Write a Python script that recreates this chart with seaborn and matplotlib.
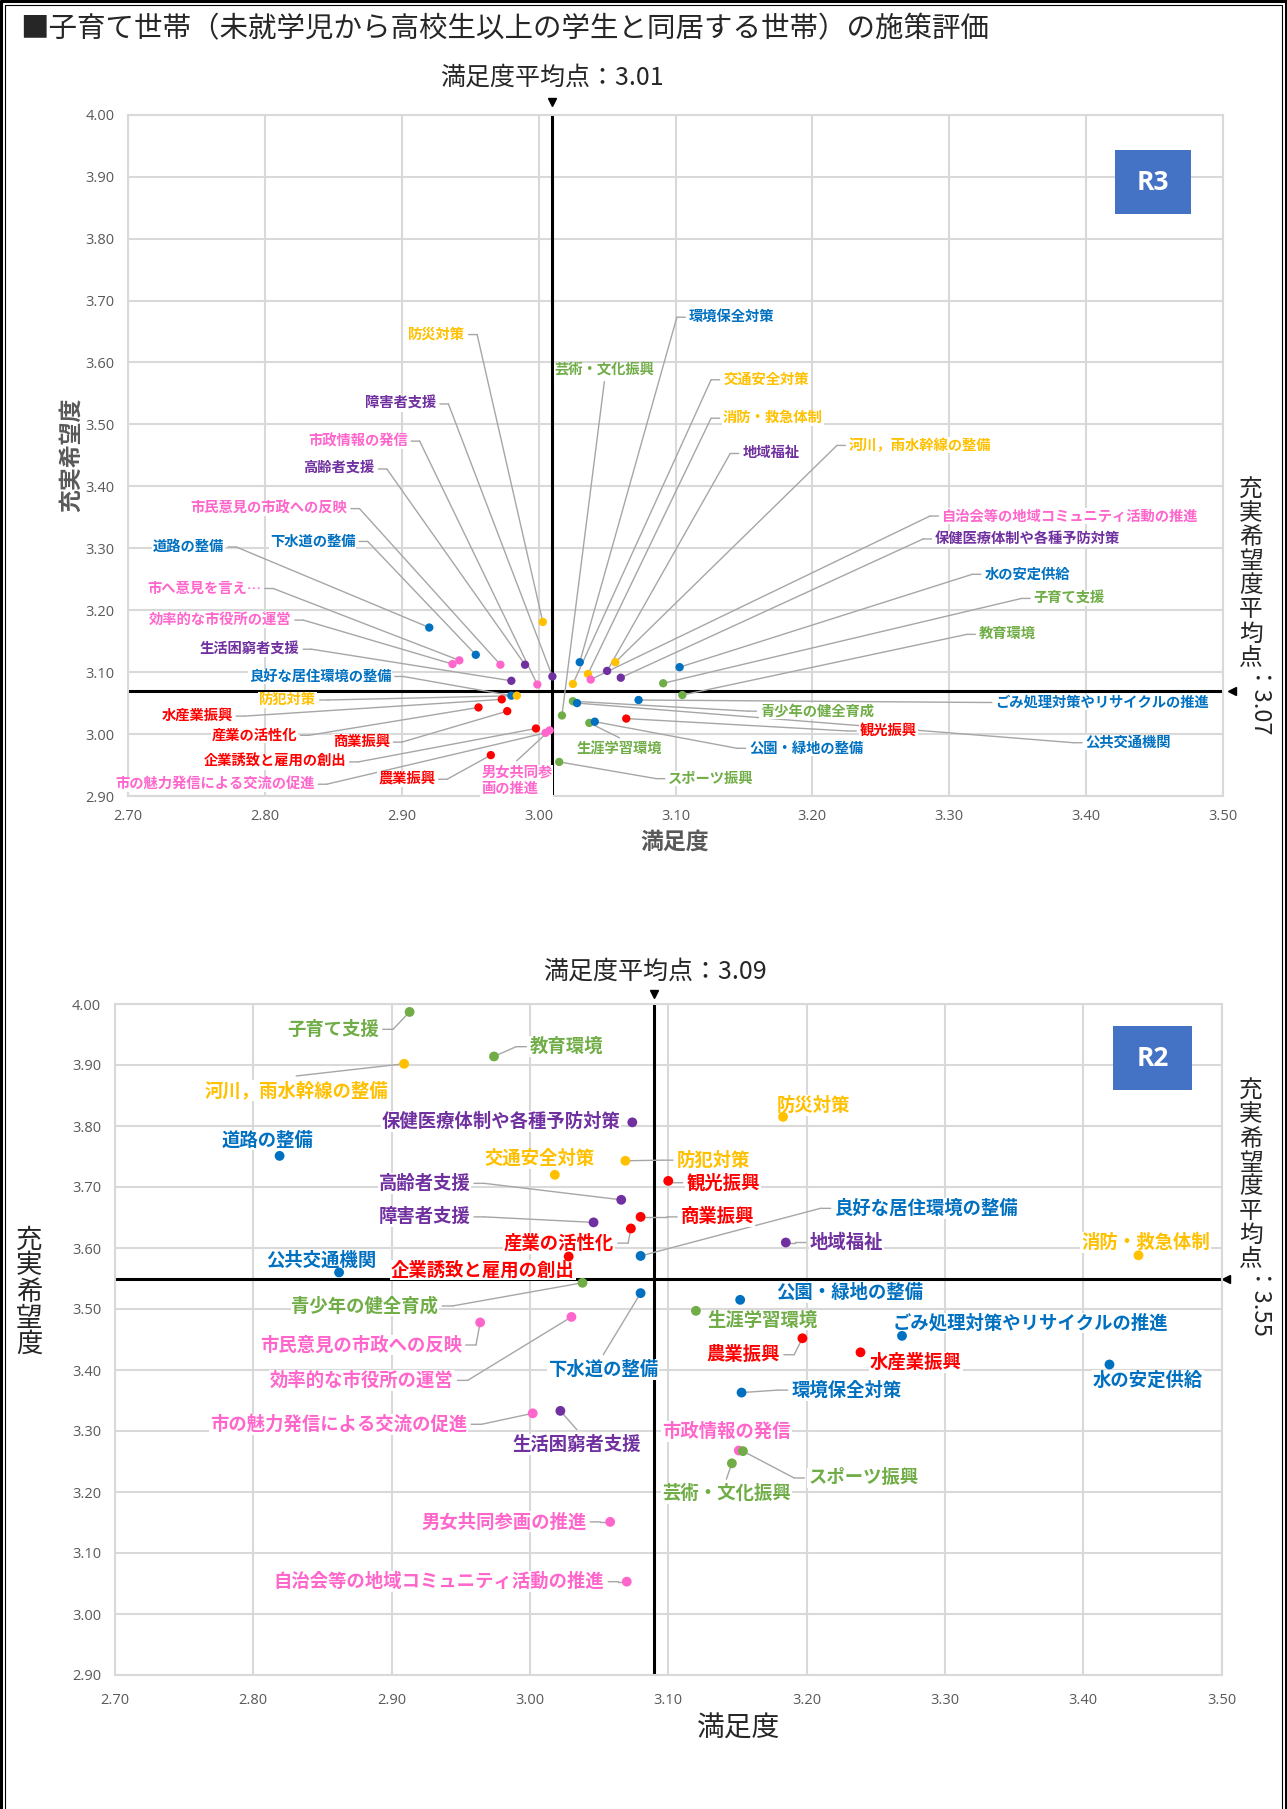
import numpy as np
import pandas as pd
import matplotlib.pyplot as plt
import matplotlib.transforms as mtransforms
import seaborn as sns
from matplotlib.lines import Line2D
from matplotlib.patches import Rectangle
from matplotlib.ticker import FormatStrFormatter

# ---- data: R3 ----
r3_names = ["道路の整備", "防災対策", "下水道の整備", "市へ意見を言え…", "効率的な市役所の運営",
            "市民意見の市政への反映", "高齢者支援", "市政情報の発信", "障害者支援", "生活困窮者支援",
            "良好な居住環境の整備", "防犯対策", "水産業振興", "産業の活性化", "商業振興",
            "企業誘致と雇用の創出", "市の魅力発信による交流の促進", "男女共同参画の推進", "農業振興", "スポーツ振興",
            "芸術・文化振興", "環境保全対策", "河川，雨水幹線の整備", "交通安全対策", "消防・救急体制",
            "地域福祉", "自治会等の地域コミュニティ活動の推進", "保健医療体制や各種予防対策", "子育て支援", "教育環境",
            "水の安定供給", "ごみ処理対策やリサイクルの推進", "青少年の健全育成", "公共交通機関", "観光振興",
            "生涯学習環境", "公園・緑地の整備"]
r3_sat = [2.920, 3.003, 2.954, 2.942, 2.937, 2.972, 2.990, 2.999, 3.010, 2.980,
          2.980, 2.984, 2.973, 2.956, 2.977, 2.998, 3.005, 3.008, 2.965, 3.015,
          3.017, 3.030, 3.056, 3.025, 3.036, 3.050, 3.038, 3.060, 3.091, 3.105,
          3.103, 3.073, 3.025, 3.028, 3.064, 3.037, 3.041]
r3_hope = [3.172, 3.181, 3.128, 3.119, 3.113, 3.112, 3.112, 3.080, 3.093, 3.086,
           3.062, 3.062, 3.056, 3.043, 3.037, 3.009, 3.002, 3.006, 2.966, 2.955,
           3.030, 3.116, 3.116, 3.081, 3.097, 3.102, 3.088, 3.091, 3.082, 3.063,
           3.108, 3.055, 3.053, 3.050, 3.025, 3.018, 3.020]
r3_grp = ["blue", "yellow", "blue", "pink", "pink", "pink", "purple", "pink", "purple", "purple",
          "blue", "yellow", "red", "red", "red", "red", "pink", "pink", "red", "green",
          "green", "blue", "yellow", "yellow", "yellow", "purple", "pink", "purple", "green", "green",
          "blue", "blue", "green", "blue", "red", "green", "blue"]
r3_mean_sat, r3_mean_hope = 3.01, 3.07

# ---- data: R2 ----
r2_names = ["子育て支援", "教育環境", "河川，雨水幹線の整備", "保健医療体制や各種予防対策", "道路の整備",
            "交通安全対策", "防犯対策", "高齢者支援", "障害者支援", "商業振興",
            "産業の活性化", "観光振興", "企業誘致と雇用の創出", "良好な居住環境の整備", "公共交通機関",
            "地域福祉", "防災対策", "消防・救急体制", "青少年の健全育成", "下水道の整備",
            "市民意見の市政への反映", "効率的な市役所の運営", "市の魅力発信による交流の促進", "生活困窮者支援", "男女共同参画の推進",
            "自治会等の地域コミュニティ活動の推進", "公園・緑地の整備", "生涯学習環境", "農業振興", "ごみ処理対策やリサイクルの推進",
            "水産業振興", "水の安定供給", "環境保全対策", "市政情報の発信", "スポーツ振興",
            "芸術・文化振興"]
r2_sat = [2.913, 2.974, 2.909, 3.074, 2.819, 3.018, 3.069, 3.066, 3.046, 3.080,
          3.073, 3.100, 3.028, 3.080, 2.862, 3.185, 3.183, 3.440, 3.038, 3.080,
          2.964, 3.030, 3.002, 3.022, 3.058, 3.070, 3.152, 3.120, 3.197, 3.269,
          3.239, 3.419, 3.153, 3.151, 3.154, 3.146]
r2_hope = [3.987, 3.914, 3.902, 3.806, 3.751, 3.720, 3.743, 3.679, 3.642, 3.651,
           3.632, 3.710, 3.586, 3.587, 3.560, 3.609, 3.815, 3.588, 3.543, 3.526,
           3.478, 3.487, 3.329, 3.333, 3.151, 3.053, 3.515, 3.497, 3.452, 3.456,
           3.429, 3.409, 3.363, 3.268, 3.267, 3.247]
r2_grp = ["green", "green", "yellow", "purple", "blue", "yellow", "yellow", "purple", "purple", "red",
          "red", "red", "red", "blue", "blue", "purple", "yellow", "yellow", "green", "blue",
          "pink", "pink", "pink", "purple", "pink", "pink", "blue", "green", "red", "blue",
          "red", "blue", "blue", "pink", "green", "green"]
r2_mean_sat, r2_mean_hope = 3.09, 3.55

pal = {"blue": "#0070C0", "green": "#70AD47", "yellow": "#FFC000",
       "purple": "#7030A0", "red": "#FF0000", "pink": "#FF66CC"}

# label layout (anchor of leader in data coords + placement mode)
r3_lab = [(2.779, 3.302, "L"), (2.955, 3.645, "L"), (2.875, 3.311, "L"), (2.806, 3.235, "L"), (2.828, 3.184, "L"),
          (2.869, 3.364, "L"), (2.889, 3.428, "L"), (2.913, 3.473, "L"), (2.934, 3.533, "L"), (2.834, 3.137, "L"),
          (2.901, 3.093, "L"), (2.846, 3.055, "L"), (2.785, 3.029, "L"), (2.832, 2.998, "L"), (2.900, 2.987, "L"),
          (2.868, 2.955, "L"), (2.845, 2.919, "L"), (2.984, 2.957, "B"), (2.933, 2.927, "L"), (3.086, 2.928, "R"),
          (3.048, 3.569, "T"), (3.101, 3.673, "R"), (3.218, 3.466, "R"), (3.126, 3.572, "R"), (3.126, 3.510, "R"),
          (3.140, 3.453, "R"), (3.286, 3.352, "R"), (3.281, 3.315, "R"), (3.353, 3.219, "R"), (3.313, 3.161, "R"),
          (3.317, 3.258, "R"), (3.325, 3.051, "R"), (3.153, 3.037, "R"), (3.391, 2.986, "R"), (3.226, 3.005, "R"),
          (3.059, 2.994, "B"), (3.145, 2.977, "R")]
r3_wrap = {"男女共同参画の推進": "男女共同参\n画の推進"}

r2_lab = [(2.901, 3.9585, "L"), (2.990, 3.930, "R"), (2.831, 3.882, "B"), (2.979, 3.807, "c"), (2.810, 3.777, "c"),
          (3.007, 3.747, "c"), (3.096, 3.744, "R"), (2.967, 3.706, "L"), (2.967, 3.651, "L"), (3.099, 3.651, "R"),
          (3.071, 3.608, "L"), (3.103, 3.707, "R"), (2.966, 3.564, "c"), (3.210, 3.665, "R"), (2.849, 3.580, "c"),
          (3.192, 3.609, "R"), (3.205, 3.833, "c"), (3.445, 3.609, "c"), (2.944, 3.505, "L"), (3.053, 3.425, "B"),
          (2.961, 3.441, "L"), (2.955, 3.383, "L"), (2.965, 3.311, "L"), (3.034, 3.302, "B"), (3.051, 3.151, "L"),
          (3.064, 3.053, "L"), (3.231, 3.527, "c"), (3.168, 3.482, "c"), (3.191, 3.425, "L"), (3.362, 3.477, "c"),
          (3.279, 3.412, "c"), (3.447, 3.383, "c"), (3.179, 3.367, "R"), (3.142, 3.299, "c"), (3.191, 3.223, "R"),
          (3.142, 3.221, "B")]

W, H = 1287, 1809
LEAD = "#A6A6A6"
GRID = "#D9D9D9"


def fx(px):
    return px / W


def fy(py):
    return 1 - py / H


sns.set_theme(style="whitegrid")
plt.rcParams['font.family'] = ['Noto Sans CJK JP', 'DejaVu Sans']

fig = plt.figure(figsize=(W / 100, H / 100), dpi=100)
fig.patch.set_facecolor("white")


def draw_panel(ax, names, sat, hope, grp, labs, wrap, mean_sat, mean_hope, ms, fs, off, xpad):
    df = pd.DataFrame({"name": names, "sat": sat, "hope": hope, "grp": grp})
    ax.set_facecolor("white")
    ax.axvline(mean_sat, color="black", lw=2.2, zorder=2)
    ax.axhline(mean_hope, color="black", lw=2.2, zorder=2)
    sns.scatterplot(data=df, x="sat", y="hope", hue="grp", palette=pal, s=ms,
                    edgecolor="none", legend=False, ax=ax, zorder=5)
    ax.set_xlim(2.70, 3.50)
    ax.set_ylim(2.90, 4.00)
    ax.set_xticks(np.round(np.arange(2.70, 3.501, 0.10), 2))
    ax.set_yticks(np.round(np.arange(2.90, 4.001, 0.10), 2))
    ax.xaxis.set_major_formatter(FormatStrFormatter("%.2f"))
    ax.yaxis.set_major_formatter(FormatStrFormatter("%.2f"))
    ax.grid(True, color=GRID, lw=1.5)
    ax.set_axisbelow(True)
    for s in ax.spines.values():
        s.set_color(GRID)
        s.set_linewidth(1.5)
    ax.set_xlabel("")
    ax.set_ylabel("")
    ax.tick_params(length=0, labelsize=10.5, labelcolor="#595959", labelfontfamily="Open Sans")
    ax.tick_params(axis="x", pad=xpad)
    ax.tick_params(axis="y", pad=10)

    for (nm, x, y, g), (lx, ly, mode) in zip(df[["name", "sat", "hope", "grp"]].values, labs):
        txt = wrap.get(nm, nm)
        kw = dict(color=pal[g], fontsize=fs, fontweight="bold", zorder=4,
                  bbox=dict(boxstyle="square,pad=0.05", fc="white", ec="none"))
        if mode in "LR":
            ax.plot([x, lx], [y, ly], color=LEAD, lw=1, zorder=3)
            sg = -1 if mode == "L" else 1
            ax.annotate(txt, (lx, ly), xytext=(sg * off, 0), textcoords="offset pixels",
                        ha="right" if mode == "L" else "left", va="center",
                        arrowprops=dict(arrowstyle="-", color=LEAD, lw=1, shrinkA=2, shrinkB=0), **kw)
        elif mode in "TB":
            ax.plot([x, lx], [y, ly], color=LEAD, lw=1, zorder=3)
            ax.annotate(txt, (lx, ly), xytext=(0, 4 if mode == "T" else -5), textcoords="offset pixels",
                        ha="center", va="bottom" if mode == "T" else "top", multialignment="left", **kw)
        else:
            ax.text(lx, ly, txt, ha="center", va="center", **kw)

    return ax.get_xaxis_transform(), ax.get_yaxis_transform()


# ---- top panel (R3) ----
ax1 = fig.add_axes([fx(128.3), fy(796), (1222.7 - 128.3) / W, (796 - 114.7) / H])
tx, ty = draw_panel(ax1, r3_names, r3_sat, r3_hope, r3_grp, r3_lab, r3_wrap,
                    r3_mean_sat, r3_mean_hope, 36, 10.3, 12, 9)
ax1.plot([r3_mean_sat], [1], marker="v", color="black", ms=6, clip_on=False,
         transform=mtransforms.offset_copy(tx, fig=fig, y=13, units="dots"))
ax1.plot([1], [r3_mean_hope], marker="<", color="black", ms=6, clip_on=False,
         transform=mtransforms.offset_copy(ty, fig=fig, x=9, units="dots"))
ax1.text(r3_mean_sat, 1, "満足度平均点：3.01", ha="center", va="center", fontsize=18,
         transform=mtransforms.offset_copy(tx, fig=fig, y=37, units="dots"))

# ---- bottom panel (R2) ----
ax2 = fig.add_axes([fx(115), fy(1675), (1221.5 - 115) / W, (1675 - 1004) / H])
tx, ty = draw_panel(ax2, r2_names, r2_sat, r2_hope, r2_grp, r2_lab, {},
                    r2_mean_sat, r2_mean_hope, 50, 13.2, 14, 13)
ax2.plot([r2_mean_sat], [1], marker="v", color="black", ms=6, clip_on=False,
         transform=mtransforms.offset_copy(tx, fig=fig, y=10, units="dots"))
ax2.plot([1], [r2_mean_hope], marker="<", color="black", ms=6, clip_on=False,
         transform=mtransforms.offset_copy(ty, fig=fig, x=4, units="dots"))
ax2.text(r2_mean_sat, 1, "満足度平均点：3.09", ha="center", va="center", fontsize=18,
         transform=mtransforms.offset_copy(tx, fig=fig, y=32, units="dots"))

# ---- titles and axis labels ----
fig.text(fx(20), fy(29), "■子育て世帯（未就学児から高校生以上の学生と同居する世帯）の施策評価",
         ha="left", va="center", fontsize=20.5)
fig.text(fx(675), fy(842), "満足度", ha="center", va="center", fontsize=16.5,
         fontweight="bold", color="#595959")
fig.text(fx(71.5), fy(455), "充実希望度", ha="center", va="center", fontsize=16.5,
         fontweight="bold", color="#595959", rotation=90)
fig.text(fx(739), fy(1729), "満足度", ha="center", va="center", fontsize=20)
for i, ch in enumerate("充実希望度"):
    fig.text(fx(29), fy(1240 + i * 26), ch, ha="center", va="center", fontsize=19)


def tategaki(x, y0, body, tail, step, fs):
    for i, ch in enumerate(body):
        fig.text(fx(x), fy(y0 + i * step), ch, ha="center", va="center", fontsize=fs)
    fig.text(fx(x), fy(y0 + (len(body) - 0.5) * step + 5), tail, rotation=270,
             ha="center", va="top", fontsize=fs)


tategaki(1251, 490, "充実希望度平均点", "：3.07", 24, 17)
tategaki(1251, 1091, "充実希望度平均点", "：3.55", 24, 17)

# R3 / R2 boxes
for (x0, y0, x1, y1, lab) in [(1115, 150, 1191, 214, "R3"), (1113, 1026, 1192, 1090, "R2")]:
    fig.patches.append(Rectangle((fx(x0), fy(y1)), (x1 - x0) / W, (y1 - y0) / H,
                                 transform=fig.transFigure, fc="#4472C4", ec="none", zorder=6))
    fig.text(fx((x0 + x1) / 2), fy((y0 + y1) / 2), lab, ha="center", va="center",
             fontsize=19, color="white", fontweight="bold", family="Open Sans", zorder=7)

# page frame (double line, open at the bottom)
for px, lw in [(1.3, 2.2), (5.3, 0.8)]:
    fig.add_artist(Line2D([fx(px), fx(px)], [0, fy(px)], transform=fig.transFigure, color="black", lw=lw))
    fig.add_artist(Line2D([fx(W - px), fx(W - px)], [0, fy(px)], transform=fig.transFigure, color="black", lw=lw))
    fig.add_artist(Line2D([fx(px), fx(W - px)], [fy(px), fy(px)], transform=fig.transFigure, color="black", lw=lw))

fig.savefig("out.png", dpi=100, facecolor="white")
